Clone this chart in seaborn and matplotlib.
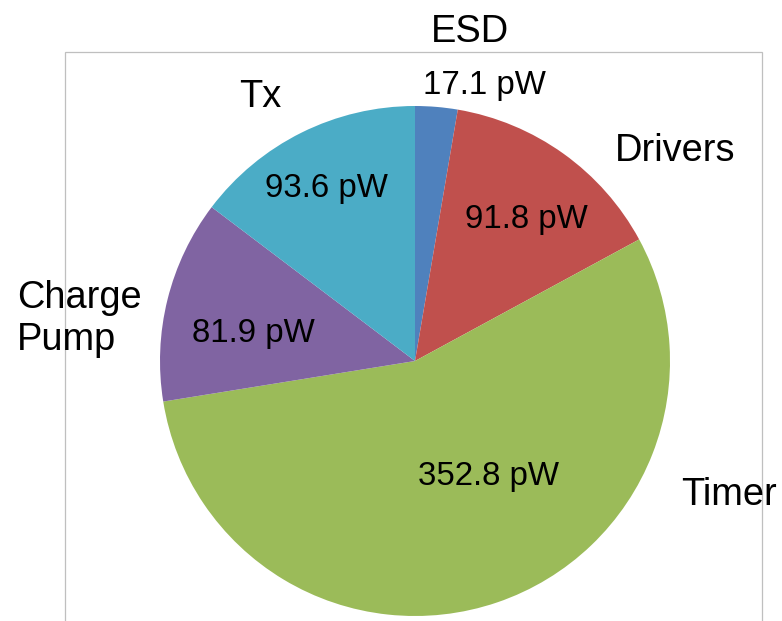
import matplotlib
matplotlib.use("Agg")
import matplotlib.pyplot as plt
import seaborn as sns
from matplotlib.patches import Rectangle

# Power breakdown per block (pW)
blocks = ["ESD", "Drivers", "Timer", "Charge\nPump", "Tx"]
power_pw = [17.1, 91.8, 352.8, 81.9, 93.6]
colors = ["#4F81BD", "#C0504D", "#9BBB59", "#8064A2", "#4BACC6"]

sns.set_theme(style="white")
plt.rcParams["font.family"] = ["Liberation Sans", "DejaVu Sans"]

W, H = 782, 621
fig = plt.figure(figsize=(W / 100, H / 100), dpi=100)
ax = fig.add_axes([0, 0, 1, 1])

def py(y):
    """Convert a top-down pixel row into the axes' bottom-up y."""
    return H - y

# Chart frame
ax.add_patch(Rectangle((65, py(660)), 762 - 65, 660 - 52, fill=False,
                       edgecolor="#BFBFBF", linewidth=0.9, zorder=0))

palette = sns.color_palette(colors)
ax.pie(power_pw, colors=palette, startangle=90, counterclock=False,
       center=(415, py(361)), radius=255, frame=True,
       wedgeprops=dict(linewidth=0))
ax.set_xlim(0, W)
ax.set_ylim(0, H)
ax.axis("off")

# Category label placement (x, baseline y of last line, horizontal alignment)
cat_pos = [(470, 42, "center"), (675, 161, "center"), (729, 505, "center"),
           (17, 350, "left"), (260, 107, "center")]
# Value label placement (x, baseline y)
val_pos = [(484, 94), (526, 228), (489, 485), (253, 342), (326, 197)]

for name, (x, y, ha) in zip(blocks, cat_pos):
    ax.text(x, py(y), name, ha=ha, va="baseline", fontsize=27.4,
            color="black", linespacing=1.22)

for v, (x, y) in zip(power_pw, val_pos):
    ax.text(x, py(y), f"{v:.1f} pW", ha="center", va="baseline",
            fontsize=23.8, color="black")

fig.savefig("out.png", dpi=100)
